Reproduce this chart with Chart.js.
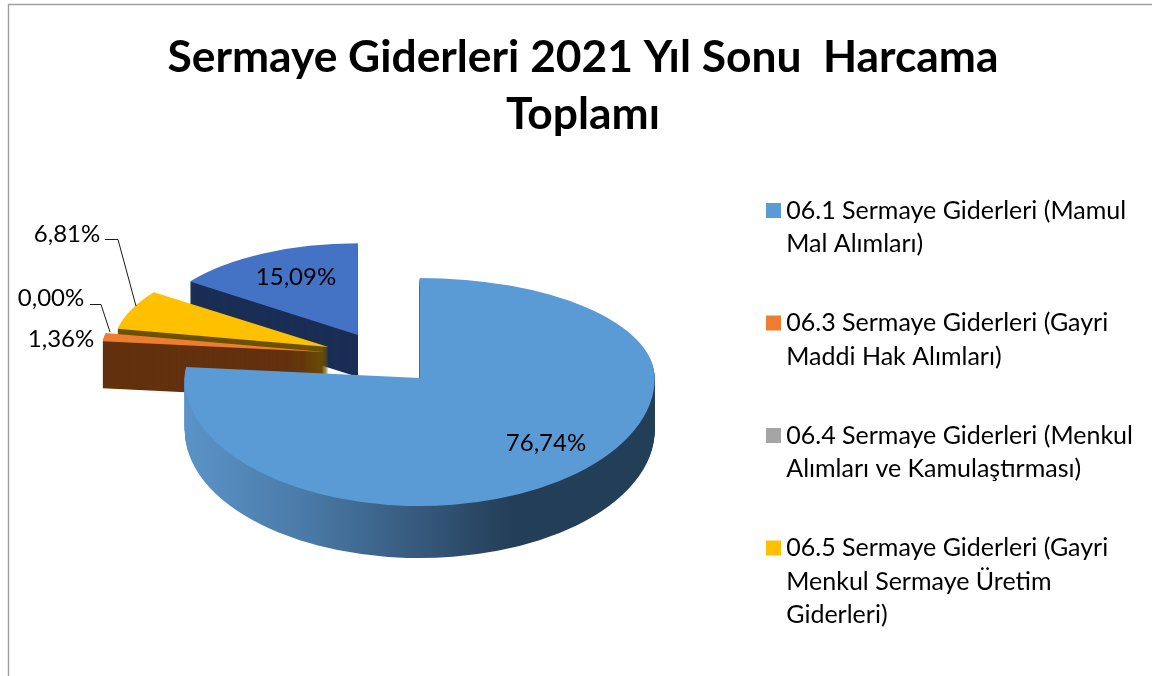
<!DOCTYPE html>
<html><head><meta charset="utf-8">
<style>html,body{margin:0;padding:0;background:#fff}canvas{display:block}</style>
<script src="https://cdn.jsdelivr.net/npm/chart.js@4/dist/chart.umd.min.js"></script>
</head><body>
<div style="width:1152px;height:676px"><canvas id="c" width="1152" height="676"></canvas></div>
<script>
const titleLines = ['Sermaye Giderleri 2021 Yıl Sonu  Harcama', 'Toplamı'];
const categories = ['06.1 Sermaye Giderleri (Mamul Mal Alımları)','06.3 Sermaye Giderleri (Gayri Maddi Hak Alımları)','06.4 Sermaye Giderleri (Menkul Alımları ve Kamulaştırması)','06.5 Sermaye Giderleri (Gayri Menkul Sermaye Üretim Giderleri)','06.6 Sermaye Giderleri'];
const legendLines = [['06.1 Sermaye Giderleri (Mamul','Mal Alımları)'],['06.3 Sermaye Giderleri (Gayri','Maddi Hak Alımları)'],['06.4 Sermaye Giderleri (Menkul','Alımları ve Kamulaştırması)'],['06.5 Sermaye Giderleri (Gayri','Menkul Sermaye Üretim','Giderleri)']];
const values = [76.74, 1.36, 0.00, 6.81, 15.09];
const valueLabels = ['76,74%','1,36%','0,00%','6,81%','15,09%'];
const topColors = ['#5b9bd5','#ed7d31','#a5a5a5','#ffc000','#4472c4'];
const wallColors = [null,'#63310f','#636363','#6b5200','#1a2e55'];

// presentation settings (not data)
const FONT = 'Lato, Carlito, sans-serif';
const PIE = {cx:381, cy:356, r:235, explode:55};
const VIEW = [ // per-slice foreshortening
  {sx:1.00, up:.4255, down:.545, depth:52, dx:2},
  {sx:.95,  up:.42,   down:.42,  depth:47, dx:-2},
  {sx:.95,  up:.42,   down:.42,  depth:47, dx:-2},
  {sx:.915, up:.40,   down:.40,  depth:45, dx:-2},
  {sx:.88,  up:.39,   down:.39,  depth:42, dx:2}
];
const DRAW_ORDER = [4,3,2,1,0];
const LABEL_POS = [[546,443],[61,339],[51,298],[67,234],[296,277]];
const LEADERS = {2:[[90,304.5],[101,304.5],[110,332]],3:[[105,239.5],[118,239.5],[136,306]]};

function drawSlice(ctx, chart, el, i, fill, dy){
  const v = VIEW[i];
  const mid = (el.startAngle + el.endAngle)/2;
  const ay = el.y + Math.sin(mid)*PIE.explode;
  const sx = el.x + Math.cos(mid)*PIE.explode + v.dx;
  const ky = ay < PIE.cy ? .43 : .545;
  const sy = Math.round(PIE.cy + (ay-PIE.cy)*ky);
  [[0,sy+0.5,v.up],[sy,chart.height-sy,v.down]].forEach(([top,h,k])=>{
    ctx.save();
    ctx.translate(0,dy);
    ctx.beginPath(); ctx.rect(0,top,chart.width,h); ctx.clip();
    ctx.translate(sx,sy); ctx.scale(v.sx,k); ctx.translate(-el.x,-el.y);
    const saved = el.options;
    el.options = Object.assign({}, saved, {backgroundColor: fill(ctx), borderWidth:0});
    el.draw(ctx);
    el.options = saved;
    ctx.restore();
  });
}

const pie3d = {
  id:'pie3d',
  beforeDraw(chart){
    const {ctx,width,height}=chart;
    ctx.save();
    ctx.fillStyle='#fff'; ctx.fillRect(0,0,width,height);
    ctx.strokeStyle='#a0a0a0'; ctx.lineWidth=1.4;
    ctx.beginPath(); ctx.moveTo(8.5,height); ctx.lineTo(8.5,4.5); ctx.lineTo(width,4.5); ctx.stroke();
    ctx.restore();
  },
  afterLayout(chart){
    const side = PIE.r*2;
    Object.assign(chart.chartArea,{left:PIE.cx-side/2,right:PIE.cx+side/2,top:PIE.cy-side/2,bottom:PIE.cy+side/2,width:side,height:side});
    const t = chart.titleBlock; t.left = 14; t.right = chart.width; t.top = 29;
    const l = chart.legend; l.left = 727.75; l.right = chart.width; l.top = 152.5; l.bottom = chart.height+60;
  },
  beforeDatasetsDraw(chart){
    const {ctx}=chart, arcs = chart.getDatasetMeta(0).data;
    DRAW_ORDER.forEach(i=>{
      const el = arcs[i];
      if (values[i] <= 0) return;
      const wall = c=>{
        if (i!==0) return wallColors[i];
        const g = c.createLinearGradient(el.x-PIE.r,0,el.x+PIE.r,0);
        g.addColorStop(0,'#5b93c8'); g.addColorStop(.25,'#4a7ba8'); g.addColorStop(.5,'#36597c');
        g.addColorStop(.7,'#233e57'); g.addColorStop(1,'#233e57');
        return g;
      };
      for (let d=VIEW[i].depth; d>0; d--) drawSlice(ctx,chart,el,i,wall,d);
      drawSlice(ctx,chart,el,i,()=>topColors[i],0);
    });
    return false;
  },
  afterDraw(chart){
    const {ctx}=chart;
    ctx.save();
    ctx.font='24px '+FONT; ctx.fillStyle='#000'; ctx.textAlign='center'; ctx.textBaseline='middle';
    valueLabels.forEach((t,i)=>ctx.fillText(t,LABEL_POS[i][0],LABEL_POS[i][1]));
    ctx.strokeStyle='#1a1a1a'; ctx.lineWidth=1;
    Object.values(LEADERS).forEach(p=>{ctx.beginPath();p.forEach(([x,y],j)=>j?ctx.lineTo(x,y):ctx.moveTo(x,y));ctx.stroke();});
    ctx.restore();
  }
};

new Chart(document.getElementById('c'),{
  type:'pie',
  data:{labels:categories,datasets:[{data:values,backgroundColor:topColors,borderWidth:0}]},
  plugins:[pie3d],
  options:{
    responsive:false,animation:false,
    rotation:0,
    plugins:{
      tooltip:{enabled:false},
      title:{display:true,text:titleLines,color:'#000',font:{family:FONT,size:44.35,weight:'bold',lineHeight:1.285},padding:{top:0,bottom:0}},
      legend:{position:'right',align:'start',labels:{
        font:{family:FONT,size:25,lineHeight:1.34},color:'#000',padding:45.5,boxWidth:0.5,boxHeight:0.5,
        generateLabels(){return legendLines.map((text,i)=>({text,fillStyle:topColors[i],strokeStyle:topColors[i],lineWidth:14.5,hidden:false,index:i}));}
      }}
    }
  }
});
</script>
</body></html>
